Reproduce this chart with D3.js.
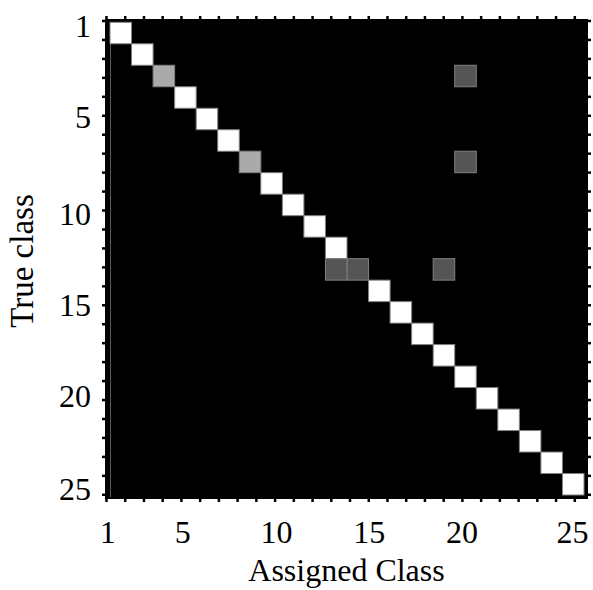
<html>
<head>
<meta charset="utf-8">
<title>Confusion matrix</title>
<script src="https://cdn.jsdelivr.net/npm/d3@7"></script>
<style type="text/css">
body{ margin:0; background:#fff; }
text{ font-family:"Liberation Serif","Times New Roman",serif; fill:#000; }
.tick line{ stroke:#000; stroke-width:2.5; }
.cell{ stroke:#808080; stroke-width:1; }
</style>
</head>
<body>
<script>
// classes in the matrix (rows = true class, cols = assigned class)
var classes = [1,2,3,4,5,6,7,8,9,10,11,12,13,14,15,16,17,18,19,20,21,22];

// fraction on the diagonal, one per class
var diagonal = [1,1,0.667,1,1,1,0.667,1,1,1,1,0.333,1,1,1,1,1,1,1,1,1,1];

// off-diagonal confusions
var offRows = [3,7,12,12];
var offCols = [17,17,11,16];
var offValues = [0.333,0.333,0.333,0.333];

// axis ticks and labels
var tickValues = [0,1,2,3,4,5,6,7,8,9,10,11,12,13,14,15,16,17,18,19,20,21,22,23,24,25];
var tickLabels = ['1','5','10','15','20','25'];
var xLabelPos = [0.1,4.1,9.1,14.05,19,24.9];
var yLabelPos = [0.24,5.09,10.2,15,19.8,24.7];

var cells = [];
classes.forEach(function(c, i){ cells.push({row:c, col:c, v:diagonal[i]}); });
offRows.forEach(function(r, i){ cells.push({row:r, col:offCols[i], v:offValues[i]}); });

var W = 593, H = 590,
	frame = {left:106, top:20, right:587, bottom:498};

var svg = d3.select('body').append('svg').attr('width', W).attr('height', H);

var xAxisScale = d3.scaleLinear().domain([0,25]).range([106,574.3]),
	yAxisScale = d3.scaleLinear().domain([0,25]).range([20.5,494.3]),
	xBand = d3.scaleBand().domain(classes).range([110,584]),
	yBand = d3.scaleBand().domain(classes).range([22.3,495]),
	gray = d3.scaleLinear().domain([0,1]).range(['#000','#fff']);

// ticks on all four sides, sticking out of the frame
function ticks(axis){ return axis.tickValues(tickValues).tickSize(4).tickSizeOuter(0).tickFormat(''); }
svg.append('g').attr('transform','translate(0,' + frame.top + ')').call(ticks(d3.axisTop(xAxisScale)));
svg.append('g').attr('transform','translate(0,' + frame.bottom + ')').call(ticks(d3.axisBottom(xAxisScale)));
svg.append('g').attr('transform','translate(' + frame.left + ',0)').call(ticks(d3.axisLeft(yAxisScale)));
svg.append('g').attr('transform','translate(' + frame.right + ',0)').call(ticks(d3.axisRight(yAxisScale)));
svg.selectAll('.domain').remove();

// black frame / background
svg.append('rect')
	.attr('x', frame.left).attr('y', frame.top)
	.attr('width', frame.right - frame.left).attr('height', frame.bottom - frame.top)
	.attr('fill','#000').attr('stroke','#000').attr('stroke-width',2);

// faint left edge of the image
svg.append('line')
	.attr('x1', xBand.range()[0] + 0.5).attr('x2', xBand.range()[0] + 0.5)
	.attr('y1', yBand.range()[0]).attr('y2', frame.bottom - 1)
	.attr('stroke','#5a5a5a').attr('stroke-width',1);

svg.append('g').selectAll('rect')
	.data(cells)
	.enter()
	.append('rect')
		.attr('class','cell')
		.attr('x', function(d){ return xBand(d.col); })
		.attr('y', function(d){ return yBand(d.row); })
		.attr('width', xBand.bandwidth())
		.attr('height', yBand.bandwidth())
		.attr('fill', function(d){ return gray(d.v); });

// tick labels
svg.append('g').selectAll('text')
	.data(tickLabels)
	.enter()
	.append('text')
		.attr('x', function(d, i){ return xAxisScale(xLabelPos[i]); })
		.attr('y', 543)
		.attr('text-anchor','middle')
		.style('font-size','32px')
		.text(function(d){ return d; });

svg.append('g').selectAll('text')
	.data(tickLabels)
	.enter()
	.append('text')
		.attr('x', 91)
		.attr('y', function(d, i){ return yAxisScale(yLabelPos[i]) + 11.5; })
		.attr('text-anchor','end')
		.style('font-size','32px')
		.text(function(d){ return d; });

// axis titles
svg.append('text')
	.attr('x', (frame.left + frame.right) / 2)
	.attr('y', 581)
	.attr('text-anchor','middle')
	.style('font-size','32px')
	.text('Assigned Class');

svg.append('text')
	.attr('transform','translate(33,261) rotate(-90)')
	.attr('text-anchor','middle')
	.style('font-size','33px')
	.text('True class');
</script>
</body>
</html>
